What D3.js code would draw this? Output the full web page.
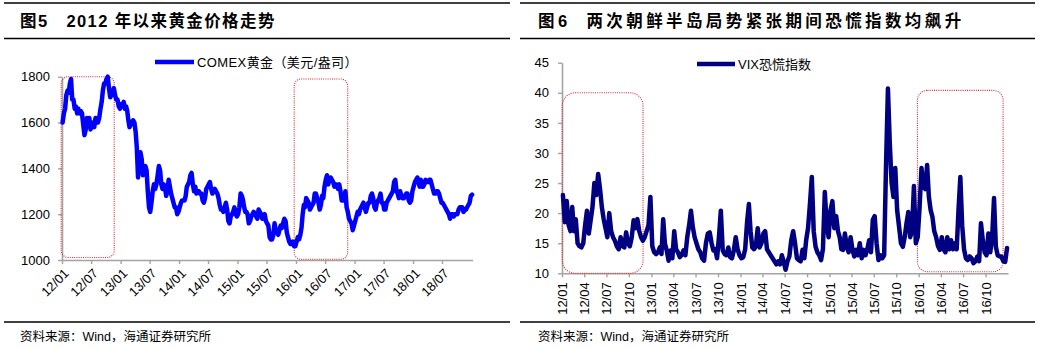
<!DOCTYPE html>
<html>
<head>
<meta charset="utf-8">
<script src="https://cdn.jsdelivr.net/npm/d3@7"></script>
<style>
  body { margin: 0; background: #fff; }
  svg { display: block; }
  text { font-family: "Liberation Sans", "Noto Sans CJK SC", sans-serif; fill: #000; }
</style>
</head>
<body>
<svg id="chart" width="1049" height="349"></svg>
<script>
// ---------- Figure 5: COMEX gold, four readings per month, Jan 2012 – Jan 2019 ----------
const goldTitle = "图5   2012 年以来黄金价格走势";
const goldLegend = "COMEX黄金（美元/盎司）";
const goldYTicks = [1000, 1200, 1400, 1600, 1800];
const goldXTicks = ["2012-01", "2012-07", "2013-01", "2013-07", "2014-01", "2014-07", "2015-01",
                    "2015-07", "2016-01", "2016-07", "2017-01", "2017-07", "2018-01", "2018-07"];
const goldStart = "2012-01";
const goldValues = [
  // 2012
  1600, 1640, 1660, 1720,  1740, 1730, 1770, 1790,  1700, 1700, 1660, 1670,
  1640, 1660, 1640, 1650,  1640, 1590, 1545, 1570,  1620, 1590, 1620, 1570,
  1600, 1590, 1580, 1620,  1610, 1600, 1620, 1660,  1690, 1740, 1770, 1770,
  1790, 1800, 1750, 1710,  1720, 1730, 1750, 1720,  1700, 1700, 1670, 1660,
  // 2013
  1680, 1670, 1690, 1660,  1670, 1650, 1610, 1580,  1590, 1600, 1610, 1600,
  1560, 1490, 1360, 1430,  1470, 1440, 1370, 1390,  1410, 1390, 1300, 1230,
  1210, 1250, 1300, 1330,  1310, 1330, 1370, 1410,  1390, 1330, 1310, 1330,
  1320, 1280, 1300, 1350,  1320, 1290, 1270, 1250,  1230, 1230, 1200, 1210,
  // 2014
  1230, 1250, 1260, 1260,  1260, 1280, 1320, 1330,  1340, 1370, 1380, 1330,
  1300, 1320, 1290, 1300,  1300, 1290, 1290, 1260,  1250, 1270, 1310, 1320,
  1330, 1340, 1310, 1290,  1300, 1310, 1300, 1290,  1270, 1240, 1220, 1220,
  1210, 1230, 1250, 1220,  1170, 1160, 1190, 1200,  1210, 1230, 1200, 1190,
  // 2015
  1200, 1230, 1290, 1280,  1260, 1230, 1210, 1210,  1200, 1160, 1170, 1190,
  1200, 1210, 1200, 1190,  1180, 1220, 1210, 1200,  1180, 1190, 1200, 1170,
  1160, 1150, 1100, 1090,  1090, 1110, 1160, 1130,  1120, 1110, 1130, 1150,
  1140, 1160, 1180, 1170,  1120, 1100, 1080, 1070,  1070, 1080, 1060, 1060,
  // 2016
  1080, 1100, 1090, 1110,  1140, 1200, 1240, 1230,  1270, 1260, 1250, 1220,
  1230, 1240, 1250, 1290,  1290, 1270, 1250, 1220,  1240, 1280, 1270, 1320,
  1350, 1370, 1330, 1350,  1360, 1350, 1340, 1320,  1330, 1330, 1310, 1330,
  1300, 1260, 1260, 1270,  1300, 1230, 1210, 1180,  1170, 1160, 1130, 1150,
  // 2017
  1170, 1190, 1210, 1200,  1220, 1230, 1240, 1250,  1230, 1210, 1230, 1250,
  1250, 1280, 1290, 1270,  1230, 1220, 1250, 1260,  1270, 1290, 1250, 1250,
  1220, 1220, 1250, 1260,  1270, 1280, 1290, 1300,  1340, 1350, 1300, 1290,
  1270, 1300, 1280, 1270,  1270, 1280, 1290, 1290,  1260, 1250, 1260, 1300,
  // 2018
  1320, 1340, 1350, 1360,  1340, 1320, 1350, 1320,  1320, 1330, 1350, 1340,
  1340, 1350, 1350, 1330,  1310, 1290, 1290, 1300,  1300, 1290, 1270, 1250,
  1250, 1240, 1230, 1220,  1210, 1200, 1180, 1200,  1200, 1190, 1200, 1200,
  1200, 1220, 1230, 1230,  1230, 1210, 1220, 1220,  1230, 1240, 1250, 1280,
  // 2019
  1285
];
// highlighted periods: [start, end, top value, bottom value, corner radius]
const goldBoxes = [
  ["2011-12-27", "2012-11-22", 1800, 1011, 7],
  ["2015-12-21", "2016-11-19", 1790, 1003, 7]
];

// ---------- Figure 6: VIX, four readings per month, Jan 2012 – Dec 2016 ----------
const vixTitle = "图6  两次朝鲜半岛局势紧张期间恐慌指数均飙升";
const vixLegend = "VIX恐慌指数";
const vixYTicks = [10, 15, 20, 25, 30, 35, 40, 45];
const vixXTicks = ["2012-01", "2012-04", "2012-07", "2012-10", "2013-01", "2013-04", "2013-07",
                   "2013-10", "2014-01", "2014-04", "2014-07", "2014-10", "2015-01", "2015-04",
                   "2015-07", "2015-10", "2016-01", "2016-04", "2016-07", "2016-10"];
const vixStart = "2012-01";
const vixValues = [
  // 2012
  23, 18.5, 22, 18,  17, 21, 17, 19,  15, 14.5, 14.3, 15,  18, 20.4, 16.6, 18.8,
  21, 25, 23, 26.5,  24, 21, 19, 17.5,  16, 20, 17, 16,  15.4, 14.5, 14, 16,
  14.5, 14.3, 16.8, 15,  14.5, 16, 18.8, 17.5,  19, 17, 16, 15.4,  16, 17, 18, 22.7,
  // 2013
  14.5, 13.5, 13.2, 13.5,  14.3, 13.2, 19, 15,  13.8, 12.1, 13.8, 12.5,  17, 14, 13.5, 12.7,
  13, 13.8, 13, 16,  18, 20.4, 17.7, 16,  15, 14, 13.5, 12.5,  12.1, 15, 16.6, 16.8,
  15, 13.8, 14, 12.5,  16, 20.4, 13.8, 13.2,  13, 14.3, 12.7, 12.5,  13.8, 16, 14, 13,
  // 2014
  12.5, 12.7, 14, 18.5,  21.5, 17, 14.3, 14,  14.5, 17.5, 14.3, 15,  16.6, 17, 14, 13.5,
  13, 12.5, 12, 11.5,  12, 11.5, 13, 11.9,  10.6, 12, 12.8, 15.5,  17, 15, 12.5, 12.2,
  12, 13.9, 12.5, 15.5,  17.5, 21.5, 26, 17,  14.4, 13.5, 13, 12.2,  14, 23.5, 18, 16,
  // 2015
  20.5, 22, 17.5, 19.5,  17, 16, 14, 13.9,  16.6, 14.5, 13.5, 16,  14, 12.8, 13.9, 13,
  15, 12.5, 13.9, 13,  14, 15.5, 13.5, 18.9,  19.5, 15, 12.2, 13,  12.5, 13, 28, 40.7,
  31.6, 25, 22.7, 27.5,  20.5, 17.8, 15, 14.4,  16, 18.3, 20.2, 16,  17, 24.5, 15, 16,
  // 2016
  21, 27.5, 24.4, 24,  28, 22.7, 20.5, 19.4,  17, 16, 14.5, 13.9,  16, 14, 13.5, 16,
  14, 15.5, 14, 15,  14, 20.5, 26, 18,  14, 12.5, 12.2, 12.8,  12.5, 11.7, 12, 12.8,
  12, 18.3, 15.5, 13.5,  13, 16.6, 13.5, 16,  22.5, 14.4, 13, 12.8,  12.8, 12, 11.9, 14.2
];
const vixBoxes = [
  ["2012-01-02", "2012-11-28", 40, 10, 13],
  ["2015-12-27", "2016-12-12", 40.4, 10.27, 10]
];

const sourceNote = "资料来源：Wind，海通证券研究所";

// ---------- helpers ----------
const parseMonth = d3.timeParse("%Y-%m");
const parseDay = d3.timeParse("%Y-%m-%d");
// place the k-th of n readings inside its month
function readingDate(start, i, perMonth) {
  const m = Math.floor(i / perMonth), k = i % perMonth;
  const a = d3.timeMonth.offset(start, m), b = d3.timeMonth.offset(start, m + 1);
  return new Date(+a + (k + 0.5) / perMonth * (b - a));
}
const axisColor = "#A3A3A3";
const fmtYM = d3.timeFormat("%y/%m");

const svg = d3.select("#chart");

function panelFrame(x0, x1, title, letterSpacing, titleX) {
  svg.append("line").attr("x1", x0).attr("x2", x1).attr("y1", 3).attr("y2", 3)
    .attr("stroke", "#000").attr("stroke-width", 1.6);
  svg.append("line").attr("x1", x0).attr("x2", x1).attr("y1", 38.5).attr("y2", 38.5)
    .attr("stroke", "#000").attr("stroke-width", 1.6);
  svg.append("line").attr("x1", x0).attr("x2", x1).attr("y1", 322).attr("y2", 322)
    .attr("stroke", "#000").attr("stroke-width", 1.6);
  svg.append("text").attr("x", titleX).attr("y", 27)
    .attr("font-size", 16.5).attr("font-weight", "bold")
    .style("letter-spacing", letterSpacing + "px")
    .style("white-space", "pre")
    .text(title);
  svg.append("text").attr("x", titleX).attr("y", 341)
    .attr("font-size", 12.5)
    .text(sourceNote);
}

function styleAxis(g) {
  g.select(".domain").attr("stroke", axisColor).attr("stroke-width", 1.6);
  g.selectAll(".tick line").attr("stroke", axisColor).attr("stroke-width", 1.4);
  g.selectAll("text").attr("font-size", 13).attr("fill", "#000")
    .attr("font-family", "'Liberation Sans', sans-serif");
}

function drawBoxes(boxes, x, y) {
  svg.append("g").selectAll("rect").data(boxes).join("rect")
    .attr("x", d => x(parseDay(d[0])))
    .attr("width", d => x(parseDay(d[1])) - x(parseDay(d[0])))
    .attr("y", d => y(d[2]))
    .attr("height", d => y(d[3]) - y(d[2]))
    .attr("rx", d => d[4]).attr("ry", d => d[4])
    .attr("fill", "none")
    .attr("stroke", "#E3262B")
    .attr("stroke-width", 1.1)
    .attr("stroke-dasharray", "1 1.2");
}

// ---------- Figure 5 ----------
panelFrame(4, 510, goldTitle, 1.4, 20);
{
  const start = parseMonth(goldStart);
  const data = goldValues.map((v, i) => ({ date: readingDate(start, i, 4), value: v }));
  const x = d3.scaleTime().domain([new Date(2012, 0, 1), new Date(2019, 0, 8)]).range([62, 472.6]);
  const y = d3.scaleLinear().domain([1000, 1800]).range([260, 76.7]);

  const gy = svg.append("g").attr("transform", "translate(62,0)")
    .call(d3.axisLeft(y).tickValues(goldYTicks).tickFormat(d3.format("d"))
      .tickSize(4).tickSizeOuter(0).tickPadding(8));
  styleAxis(gy);

  const gx = svg.append("g").attr("transform", "translate(0,260)")
    .call(d3.axisBottom(x).tickValues(goldXTicks.map(parseMonth)).tickFormat(fmtYM)
      .tickSize(4).tickSizeOuter(0));
  styleAxis(gx);
  gx.selectAll("text")
    .attr("x", 0).attr("y", 0).attr("dy", "0.35em")
    .attr("text-anchor", "end")
    .attr("transform", "translate(4,11) rotate(-45)");

  drawBoxes(goldBoxes, x, y);

  svg.append("path").datum(data)
    .attr("fill", "none").attr("stroke", "#0000FF").attr("stroke-width", 4.5)
    .attr("stroke-linejoin", "round").attr("stroke-linecap", "round")
    .attr("d", d3.line().x(d => x(d.date)).y(d => y(d.value)));

  // legend
  svg.append("line").attr("x1", 155).attr("x2", 194).attr("y1", 62).attr("y2", 62)
    .attr("stroke", "#0000FF").attr("stroke-width", 4.5);
  svg.append("text").attr("x", 197).attr("y", 66.5).attr("font-size", 13)
    .style("letter-spacing", "0.4px").text(goldLegend);
}

// ---------- Figure 6 ----------
panelFrame(520, 1035, vixTitle, 3.4, 538);
{
  const start = parseMonth(vixStart);
  const data = vixValues.map((v, i) => ({ date: readingDate(start, i, 4), value: v }));
  const x = d3.scaleTime().domain([new Date(2012, 0, 1), new Date(2017, 0, 1)]).range([562, 1008]);
  const y = d3.scaleLinear().domain([10, 45]).range([273.3, 62.7]);

  const gy = svg.append("g").attr("transform", "translate(562,0)")
    .call(d3.axisLeft(y).tickValues(vixYTicks).tickSize(4).tickSizeOuter(0).tickPadding(9));
  styleAxis(gy);

  const gx = svg.append("g").attr("transform", "translate(0,273.3)")
    .call(d3.axisBottom(x).tickValues(vixXTicks.map(parseMonth)).tickFormat(fmtYM)
      .tickSize(4).tickSizeOuter(0));
  styleAxis(gx);
  gx.selectAll("text")
    .attr("x", 0).attr("y", 0).attr("dy", "0.35em")
    .attr("text-anchor", "end")
    .attr("transform", "translate(0,9) rotate(-90)");

  drawBoxes(vixBoxes, x, y);

  svg.append("path").datum(data)
    .attr("fill", "none").attr("stroke", "#000080").attr("stroke-width", 4.5)
    .attr("stroke-linejoin", "round").attr("stroke-linecap", "round")
    .attr("d", d3.line().x(d => x(d.date)).y(d => y(d.value)));

  // legend
  svg.append("line").attr("x1", 697).attr("x2", 735).attr("y1", 64).attr("y2", 64)
    .attr("stroke", "#000080").attr("stroke-width", 4.5);
  svg.append("text").attr("x", 738).attr("y", 68.5).attr("font-size", 13).text(vixLegend);
}
</script>
</body>
</html>
